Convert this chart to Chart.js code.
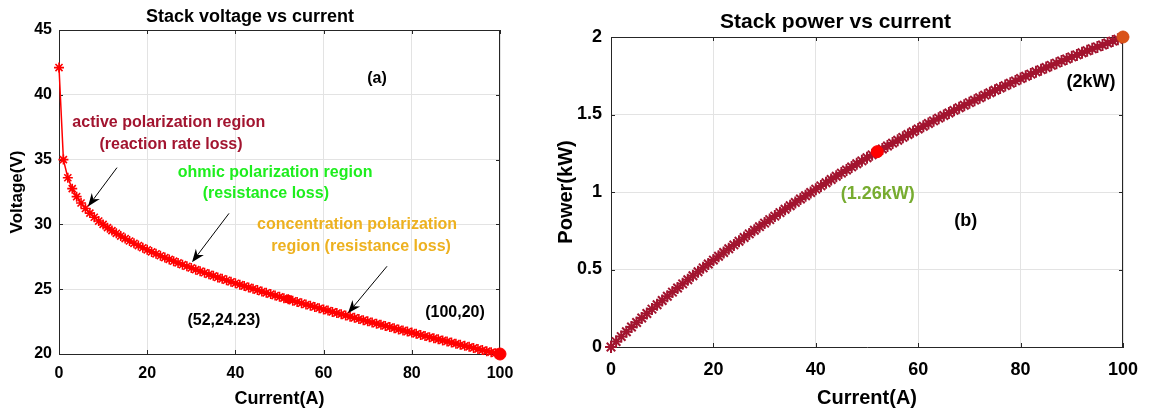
<!DOCTYPE html>
<html><head><meta charset="utf-8">
<script src="https://cdn.jsdelivr.net/npm/chart.js@4.4.0/dist/chart.umd.min.js"></script>
<style>
html,body{margin:0;padding:0;background:#fff;}
#wrap{position:relative;width:1154px;height:414px;overflow:hidden;background:#fff;}
#c1{position:absolute;left:0;top:0;}
#c2{position:absolute;left:548px;top:0;}
</style></head><body>
<div id="wrap"><canvas id="c1" width="560" height="414"></canvas><canvas id="c2" width="606" height="414"></canvas></div>
<script>
// ---- data ----
const current = [0,1,2,3,4,5,6,7,8,9,10,11,12,13,14,15,16,17,18,19,20,21,22,23,24,25,26,27,28,29,30,31,32,33,34,35,36,37,38,39,40,41,42,43,44,45,46,47,48,49,50,51,52,53,54,55,56,57,58,59,60,61,62,63,64,65,66,67,68,69,70,71,72,73,74,75,76,77,78,79,80,81,82,83,84,85,86,87,88,89,90,91,92,93,94,95,96,97,98,99,100];
const voltage = [42.1,35.00,33.60,32.76,32.14,31.65,31.23,30.87,30.55,30.26,30.00,29.75,29.52,29.31,29.10,28.91,28.72,28.54,28.37,28.20,28.04,27.88,27.73,27.58,27.44,27.30,27.16,27.03,26.89,26.77,26.64,26.51,26.39,26.27,26.15,26.03,25.91,25.80,25.69,25.57,25.46,25.35,25.24,25.14,25.03,24.93,24.82,24.72,24.62,24.51,24.41,24.31,24.23,24.11,24.02,23.92,23.82,23.73,23.63,23.53,23.44,23.35,23.25,23.16,23.07,22.98,22.88,22.79,22.70,22.61,22.52,22.43,22.34,22.26,22.17,22.08,21.99,21.90,21.82,21.73,21.65,21.56,21.47,21.39,21.30,21.22,21.13,21.05,20.97,20.88,20.80,20.71,20.63,20.55,20.47,20.38,20.30,20.22,20.14,20.06,20.00];
const power = [0,0.035,0.0672,0.0983,0.1286,0.1583,0.1874,0.2161,0.2444,0.2723,0.3000,0.3273,0.3542,0.3810,0.4074,0.4337,0.4595,0.4852,0.5107,0.5358,0.5608,0.5855,0.6101,0.6343,0.6586,0.6825,0.7062,0.7298,0.7529,0.7763,0.7992,0.8218,0.8445,0.8669,0.8891,0.9111,0.9328,0.9546,0.9762,0.9972,1.0184,1.0394,1.0601,1.0810,1.1013,1.1219,1.1417,1.1618,1.1818,1.2010,1.2205,1.2398,1.2600,1.2778,1.2971,1.3156,1.3339,1.3526,1.3705,1.3883,1.4064,1.4244,1.4415,1.4591,1.4765,1.4937,1.5101,1.5269,1.5436,1.5601,1.5764,1.5925,1.6085,1.6250,1.6406,1.6560,1.6712,1.6863,1.7020,1.7167,1.7320,1.7464,1.7605,1.7754,1.7892,1.8037,1.8172,1.8314,1.8454,1.8583,1.8720,1.8846,1.8980,1.9112,1.9242,1.9361,1.9488,1.9613,1.9737,1.9859,2.000];
const markIdx = [52, 100];
const xTicks = [0,20,40,60,80,100];
const xTickLabels = ['0','20','40','60','80','100'];
const voltTicks = [20,25,30,35,40,45];
const voltTickLabels = ['20','25','30','35','40','45'];
const powerTicks = [0,0.5,1,1.5,2];
const powerTickLabels = ['0','0.5','1','1.5','2'];

// ---- annotations (in data coordinates) ----
const leftNotes = [
  {text:'(a)', x:72.1, y:41.27, color:'#000000'},
  {text:'active polarization region', x:24.9, y:37.85, color:'#A2142F'},
  {text:'(reaction rate loss)', x:25.4, y:36.15, color:'#A2142F'},
  {text:'ohmic polarization region', x:49.0, y:34.0, color:'#1EEE1E'},
  {text:'(resistance loss)', x:46.9, y:32.38, color:'#1EEE1E'},
  {text:'concentration polarization', x:67.6, y:30.0, color:'#EDB120'},
  {text:'region (resistance loss)', x:68.5, y:28.31, color:'#EDB120'},
  {text:'(52,24.23)', x:37.4, y:22.54, color:'#000000'},
  {text:'(100,20)', x:89.8, y:23.23, color:'#000000'}
];
const leftArrows = [
  {x0:13.15, y0:34.38, x1:6.58, y1:31.38},
  {x0:38.55, y0:30.85, x1:30.16, y1:27.08},
  {x0:74.38, y0:26.77, x1:65.53, y1:23.15}
];
const rightNotes = [
  {text:'(1.26kW)', x:52.1, y:0.987, color:'#77AC30'},
  {text:'(2kW)', x:93.75, y:1.71, color:'#000000'},
  {text:'(b)', x:69.3, y:0.813, color:'#000000'}
];

const FAM = "'Liberation Sans', Arial, Helvetica, sans-serif";

function framePlugin(id, tickLen) {
  return {
    id: id,
    beforeDatasetsDraw(chart) {
      const ctx = chart.ctx, a = chart.chartArea;
      const xs = chart.scales.x, ys = chart.scales.y;
      ctx.save();
      ctx.strokeStyle = '#262626';
      ctx.lineWidth = 1;
      ctx.beginPath();
      ctx.moveTo(a.left, a.top + 0.5); ctx.lineTo(a.right, a.top + 0.5);
      ctx.moveTo(a.right - 0.5, a.top); ctx.lineTo(a.right - 0.5, a.bottom);
      xs.ticks.forEach(t => {
        const px = Math.round(xs.getPixelForValue(t.value)) + 0.5;
        ctx.moveTo(px, a.bottom); ctx.lineTo(px, a.bottom - tickLen);
        ctx.moveTo(px, a.top); ctx.lineTo(px, a.top + tickLen);
      });
      ys.ticks.forEach(t => {
        const py = Math.round(ys.getPixelForValue(t.value)) + 0.5;
        ctx.moveTo(a.left, py); ctx.lineTo(a.left + tickLen, py);
        ctx.moveTo(a.right, py); ctx.lineTo(a.right - tickLen, py);
      });
      ctx.stroke();
      ctx.restore();
    }
  };
}

function notesPlugin(id, notes, arrows, size) {
  return {
    id: id,
    afterDatasetsDraw(chart) {
      const ctx = chart.ctx;
      const xs = chart.scales.x, ys = chart.scales.y;
      ctx.save();
      arrows.forEach(ar => {
        const x0 = xs.getPixelForValue(ar.x0), y0 = ys.getPixelForValue(ar.y0);
        const x1 = xs.getPixelForValue(ar.x1), y1 = ys.getPixelForValue(ar.y1);
        const ang = Math.atan2(y1 - y0, x1 - x0);
        const L = 13, W = 5, N = 9;
        ctx.strokeStyle = '#000'; ctx.lineWidth = 1;
        ctx.beginPath();
        ctx.moveTo(x0, y0);
        ctx.lineTo(x1 - N * Math.cos(ang), y1 - N * Math.sin(ang));
        ctx.stroke();
        const bx = x1 - L * Math.cos(ang), by = y1 - L * Math.sin(ang);
        const nx = -Math.sin(ang), ny = Math.cos(ang);
        ctx.fillStyle = '#000';
        ctx.beginPath();
        ctx.moveTo(x1, y1);
        ctx.lineTo(bx + W * nx, by + W * ny);
        ctx.lineTo(x1 - N * Math.cos(ang), y1 - N * Math.sin(ang));
        ctx.lineTo(bx - W * nx, by - W * ny);
        ctx.closePath();
        ctx.fill();
      });
      ctx.font = 'bold ' + size + 'px ' + FAM;
      ctx.textAlign = 'center';
      ctx.textBaseline = 'middle';
      notes.forEach(n => {
        ctx.fillStyle = n.color;
        ctx.fillText(n.text, xs.getPixelForValue(n.x), ys.getPixelForValue(n.y));
      });
      ctx.restore();
    }
  };
}

function xScale(h, tickSize, tickPad, titleSize, titlePad) {
  return {
    type: 'linear', min: 0, max: 100,
    afterBuildTicks: s => { s.ticks = xTicks.map(v => ({value: v})); },
    afterFit: s => { s.height = h; },
    grid: {color: '#e3e3e3', drawTicks: false},
    border: {display: true, color: '#262626', width: 1},
    ticks: {padding: tickPad, color: '#000', maxRotation: 0, font: {family: FAM, size: tickSize, weight: 'bold'},
            callback: (v, i) => xTickLabels[i]},
    title: {display: true, text: 'Current(A)', color: '#000', padding: {top: 0, bottom: titlePad},
            font: {family: FAM, size: titleSize, weight: 'bold'}}
  };
}
function yScale(w, min, max, ticks, labels, tickSize, tickPad, titleText, titleSize, titlePad) {
  return {
    type: 'linear', min: min, max: max,
    afterBuildTicks: s => { s.ticks = ticks.map(v => ({value: v})); },
    afterFit: s => { s.width = w; },
    grid: {color: '#e3e3e3', drawTicks: false},
    border: {display: true, color: '#262626', width: 1},
    ticks: {padding: tickPad, color: '#000', font: {family: FAM, size: tickSize, weight: 'bold'},
            callback: (v, i) => labels[i]},
    title: {display: true, text: titleText, color: '#000', padding: {top: titlePad, bottom: 0},
            font: {family: FAM, size: titleSize, weight: 'bold'}}
  };
}

// ---- left chart ----
new Chart(document.getElementById('c1'), {
  type: 'line',
  data: {
    datasets: [
      {
        data: markIdx.map(i => ({x: current[i], y: voltage[i]})),
        showLine: false, pointStyle: 'circle', pointRadius: [4, 6],
        pointBackgroundColor: '#FF0000', pointBorderColor: '#FF0000', pointBorderWidth: 1, clip: false
      },
      {
        data: current.map((c, i) => ({x: c, y: voltage[i]})),
        borderColor: '#FF0000', borderWidth: 1.5, tension: 0,
        pointStyle: 'star', pointRadius: 5, pointBorderWidth: 1.6, pointBorderColor: '#FF0000',
        pointBackgroundColor: '#FF0000', clip: false
      }
    ]
  },
  options: {
    responsive: false, animation: false, devicePixelRatio: 1,
    layout: {padding: {left: 0, right: 60, top: 0, bottom: 0}},
    plugins: {
      legend: {display: false}, tooltip: {enabled: false},
      title: {display: true, text: 'Stack voltage vs current', color: '#000',
              font: {family: FAM, size: 18, weight: 'bold'}, padding: {top: 6, bottom: 2.4}}
    },
    scales: {
      x: xScale(60, 16, 10, 18, 4),
      y: yScale(59, 20, 45, voltTicks, voltTickLabels, 16, 7, 'Voltage(V)', 17, 7)
    }
  },
  plugins: [framePlugin('frameL', 4), notesPlugin('notesL', leftNotes, leftArrows, 16)]
});

// ---- right chart ----
new Chart(document.getElementById('c2'), {
  type: 'line',
  data: {
    datasets: [
      {
        data: markIdx.map(i => ({x: current[i], y: power[i]})),
        showLine: false, pointStyle: 'circle', pointRadius: 6,
        pointBackgroundColor: ['#FF0000', '#D95319'], pointBorderColor: ['#FF0000', '#D95319'],
        pointBorderWidth: 1, clip: false
      },
      {
        data: current.map((c, i) => ({x: c, y: power[i]})),
        borderColor: '#A2142F', borderWidth: 2, tension: 0,
        pointStyle: 'star', pointRadius: 6, pointBorderWidth: 2, pointBorderColor: '#A2142F',
        pointBackgroundColor: '#A2142F', clip: false
      }
    ]
  },
  options: {
    responsive: false, animation: false, devicePixelRatio: 1,
    layout: {padding: {left: 0, right: 31, top: 0, bottom: 0}},
    plugins: {
      legend: {display: false}, tooltip: {enabled: false},
      title: {display: true, text: 'Stack power vs current', color: '#000',
              font: {family: FAM, size: 21, weight: 'bold'}, padding: {top: 9.4, bottom: 2.4}}
    },
    scales: {
      x: xScale(67, 18, 12, 20, 4),
      y: yScale(63, 0, 2, powerTicks, powerTickLabels, 18, 9, 'Power(kW)', 20, 6)
    }
  },
  plugins: [framePlugin('frameR', 4), notesPlugin('notesR', rightNotes, [], 18)]
});
</script>
</body></html>
